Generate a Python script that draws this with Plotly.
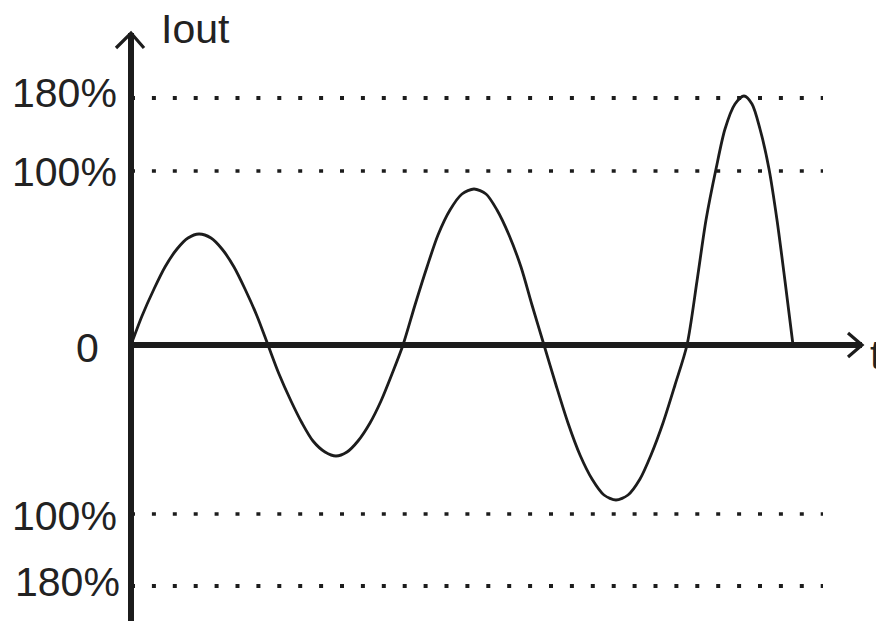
import plotly.graph_objects as go

# ---- data (schematic units: 1 unit ~ 1 px; t measured from the vertical axis) ----
curve_t = [0, 11, 23, 34, 46, 57, 68, 80, 91, 103, 114, 126, 137,
           148, 160, 171, 182, 194, 205, 216, 227, 239, 250, 261, 272,
           284, 296, 307, 319, 331, 343, 355, 366, 378, 390, 401, 413,
           425, 437, 449, 461, 473, 485, 497, 509, 520, 532, 544, 556,
           566, 575, 585, 594, 604, 613, 621, 629, 638, 646, 654, 662]
curve_i = [0, 29, 56, 78, 96, 107, 111, 107, 96, 78, 56, 29, 0,
           -29, -56, -78, -96, -107, -111, -107, -96, -78, -56, -29, 0,
           40, 78, 110, 135, 151, 156, 151, 135, 110, 78, 40, 0,
           -40, -78, -110, -134, -150, -155, -150, -134, -110, -78, -40, 0,
           64, 125, 176, 216, 241, 249, 241, 216, 176, 125, 64, 0]

level_values = [247, 174, 0, -169, -241]
level_labels = ["180%", "100%", "0", "100%", "180%"]
label_right = [-12, -12, -30, -12, -9]      # right edge of each label
label_center = [252, 173, -3, -171, -237]   # vertical centre of each label
dot_widths = [4.2, 3.6, None, 3.6, 4.2]

x_axis_end = 731
y_axis_top = 312
y_axis_bottom = -290
dots_end = 692

INK = "#1c1c1c"
FONT = "Liberation Sans, Arial, sans-serif"

fig = go.Figure()

# dotted reference lines
for v, w in zip(level_values, dot_widths):
    if w is None:
        continue
    fig.add_trace(go.Scatter(x=[0, dots_end], y=[v, v], mode="lines",
                             line=dict(color=INK, width=w, dash="4px,16.9px"),
                             hoverinfo="skip", showlegend=False))

# current waveform
fig.add_trace(go.Scatter(x=curve_t, y=curve_i, mode="lines",
                         line=dict(color=INK, width=2.8, shape="spline", smoothing=0.8),
                         showlegend=False))

# axes
fig.add_trace(go.Scatter(x=[0, 0], y=[y_axis_bottom, y_axis_top], mode="lines",
                         line=dict(color=INK, width=6), hoverinfo="skip", showlegend=False))
fig.add_trace(go.Scatter(x=[-3, x_axis_end], y=[0, 0], mode="lines",
                         line=dict(color=INK, width=6), hoverinfo="skip", showlegend=False))
# arrow heads (open chevrons)
fig.add_trace(go.Scatter(x=[-15, 0, 13], y=[y_axis_top - 15, y_axis_top, y_axis_top - 15],
                         mode="lines", line=dict(color=INK, width=3.2),
                         hoverinfo="skip", showlegend=False))
fig.add_trace(go.Scatter(x=[x_axis_end - 14, x_axis_end, x_axis_end - 14], y=[12, 0, -12],
                         mode="lines", line=dict(color=INK, width=3.2),
                         hoverinfo="skip", showlegend=False))

annotations = []
for lab, xr, yc in zip(level_labels, label_right, label_center):
    annotations.append(dict(x=xr, y=yc, xref="x", yref="y", text=lab, showarrow=False,
                            xanchor="right", yanchor="middle",
                            font=dict(family=FONT, size=41, color="#222222")))
annotations.append(dict(x=28, y=316, xref="x", yref="y", text="Iout", showarrow=False,
                        xanchor="left", yanchor="middle",
                        font=dict(family=FONT, size=41, color="#222222")))
annotations.append(dict(x=737, y=-10, xref="x", yref="y", text="t", showarrow=False,
                        xanchor="left", yanchor="middle",
                        font=dict(family=FONT, size=41, color="#222222")))

fig.update_layout(
    width=884, height=621, autosize=False,
    margin=dict(l=0, r=0, t=0, b=0, pad=0),
    paper_bgcolor="white", plot_bgcolor="white",
    xaxis=dict(range=[-123, 761], visible=False, fixedrange=True),
    yaxis=dict(range=[-284, 337], visible=False, fixedrange=True),
    annotations=annotations,
    showlegend=False,
)

fig.write_html("out.html")
